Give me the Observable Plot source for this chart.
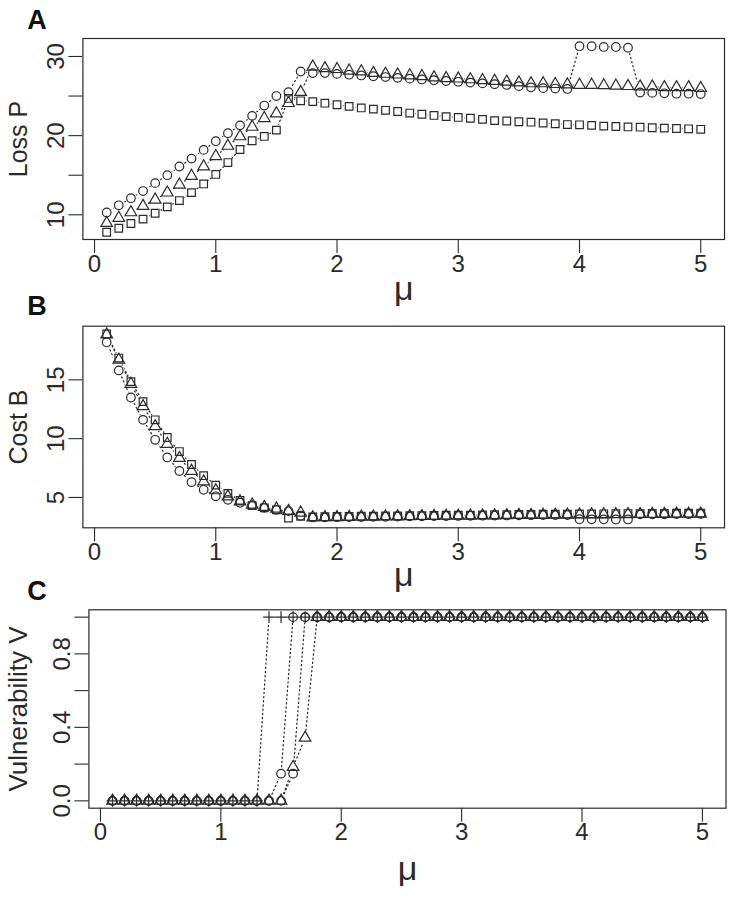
<!DOCTYPE html>
<html>
<head>
<meta charset="utf-8">
<script src="https://cdn.jsdelivr.net/npm/d3@7"></script>
<script src="https://cdn.jsdelivr.net/npm/@observablehq/plot@0.6"></script>
<style>
  html, body { margin: 0; padding: 0; background: #fff; }
  #chart { width: 735px; height: 897px; position: relative; overflow: hidden; }
  #chart svg { display: block; }
</style>
</head>
<body>
<div id="chart"></div>
<script>
// ---------------- data ----------------
const mu = [0.1,0.2,0.3,0.4,0.5,0.6,0.7,0.8,0.9,1.0,
            1.1,1.2,1.3,1.4,1.5,1.6,1.7,1.8,1.9,2.0,
            2.1,2.2,2.3,2.4,2.5,2.6,2.7,2.8,2.9,3.0,
            3.1,3.2,3.3,3.4,3.5,3.6,3.7,3.8,3.9,4.0,
            4.1,4.2,4.3,4.4,4.5,4.6,4.7,4.8,4.9,5.0];

// Panel A: Loss P
const lossCircle = [10.3,11.2,12.1,13.0,14.0,15.0,16.1,17.1,18.2,19.3,
                    20.3,21.3,22.5,23.8,25.0,25.5,28.1,27.9,27.9,27.8,
                    27.7,27.6,27.5,27.4,27.3,27.2,27.1,27.0,26.9,26.8,
                    26.7,26.6,26.5,26.4,26.25,26.1,26.0,25.95,25.9,31.3,
                    31.3,31.2,31.2,31.1,25.45,25.4,25.35,25.3,25.3,25.25];
const lossTriangle = [8.95,9.6,10.3,11.1,11.9,12.8,13.8,14.9,16.1,17.4,
                      18.7,19.9,21.1,22.2,22.8,24.1,25.5,28.7,28.5,28.4,
                      28.2,28.1,27.9,27.8,27.7,27.6,27.5,27.35,27.25,27.2,
                      27.1,27.0,26.9,26.8,26.7,26.6,26.6,26.5,26.45,26.4,
                      26.4,26.35,26.3,26.25,26.2,26.2,26.1,26.1,26.1,26.0];
const lossSquare = [7.8,8.3,8.9,9.45,10.2,11.0,11.8,12.8,13.9,15.1,
                    16.6,18.25,19.35,19.9,20.7,24.7,24.4,24.3,24.1,23.9,
                    23.7,23.5,23.35,23.2,23.05,22.85,22.7,22.55,22.4,22.3,
                    22.2,22.05,21.9,21.85,21.75,21.7,21.6,21.5,21.4,21.37,
                    21.3,21.2,21.15,21.1,21.07,21.0,20.95,20.9,20.86,20.8];

// Panel B: Cost B
const costCircle = [18.2,15.8,13.5,11.6,9.9,8.4,7.25,6.3,5.65,5.1,
                    4.8,4.55,4.35,4.12,3.95,3.84,3.45,3.3,3.31,3.32,
                    3.33,3.34,3.35,3.36,3.38,3.39,3.4,3.41,3.42,3.43,
                    3.44,3.45,3.46,3.47,3.48,3.49,3.5,3.5,3.51,3.15,
                    3.14,3.14,3.13,3.13,3.56,3.57,3.57,3.58,3.59,3.6];
const costTriangle = [18.85,16.7,14.65,12.75,11.05,9.55,8.35,7.25,6.35,5.6,
                      5.08,4.66,4.38,4.18,4.04,3.84,3.7,3.3,3.31,3.32,
                      3.33,3.35,3.36,3.37,3.38,3.4,3.41,3.42,3.43,3.44,
                      3.45,3.46,3.47,3.48,3.5,3.5,3.51,3.52,3.53,3.54,
                      3.55,3.55,3.56,3.57,3.58,3.58,3.59,3.6,3.6,3.61];
const costSquare = [18.9,16.85,14.85,13.15,11.6,10.1,8.9,7.8,6.85,6.05,
                    5.35,4.75,4.3,4.12,3.95,3.25,3.4,3.35,3.36,3.38,
                    3.38,3.4,3.41,3.43,3.43,3.45,3.46,3.47,3.49,3.5,
                    3.5,3.52,3.53,3.54,3.55,3.56,3.57,3.58,3.58,3.6,
                    3.6,3.61,3.62,3.63,3.63,3.64,3.65,3.66,3.66,3.67];

// Panel C: Vulnerability V
const vulnPlus = [0,0,0,0,0,0,0,0,0,0,
                  0,0,0,1,1,1,1,1,1,1,
                  1,1,1,1,1,1,1,1,1,1,
                  1,1,1,1,1,1,1,1,1,1,
                  1,1,1,1,1,1,1,1,1,1];
const vulnCircle1 = [0,0,0,0,0,0,0,0,0,0,
                     0,0,0,0,0.148,1,1,1,1,1,
                     1,1,1,1,1,1,1,1,1,1,
                     1,1,1,1,1,1,1,1,1,1,
                     1,1,1,1,1,1,1,1,1,1];
const vulnCircle2 = [0,0,0,0,0,0,0,0,0,0,
                     0,0,0,0,0,0.148,1,1,1,1,
                     1,1,1,1,1,1,1,1,1,1,
                     1,1,1,1,1,1,1,1,1,1,
                     1,1,1,1,1,1,1,1,1,1];
const vulnTriangle = [0,0,0,0,0,0,0,0,0,0,
                      0,0,0,0,0,0.184,0.343,1,1,1,
                      1,1,1,1,1,1,1,1,1,1,
                      1,1,1,1,1,1,1,1,1,1,
                      1,1,1,1,1,1,1,1,1,1];

const xTicks = [0, 1, 2, 3, 4, 5];
const yTicksA = [10, 15, 20, 25, 30];
const yLabelsA = [10, 20, 30];
const yTicksB = [5, 10, 15];
const yLabelsB = [5, 10, 15];
const yTicksC = [0, 0.2, 0.4, 0.6, 0.8, 1.0];
const yLabelsC = [0, 0.4, 0.8];

// ---------------- drawing ----------------
const INK = "#2a2a2a";
const FONT = "'Liberation Sans', Arial, Helvetica, sans-serif";
const rows = vals => vals.map((v, i) => ({mu: mu[i], v}));

function panel(o) {
  const layers = o.series.map(s => ({data: rows(s.values), symbol: s.symbol, r: s.r}));
  const marks = [];
  // dotted connecting lines (type = "b")
  for (const l of layers) marks.push(Plot.line(l.data, {x: "mu", y: "v", stroke: INK, strokeWidth: 1.25, strokeDasharray: "1.2,3"}));
  // white gaps around points
  for (const l of layers) marks.push(Plot.dot(l.data, {x: "mu", y: "v", r: 5.8, fill: "white"}));
  // open symbols
  for (const l of layers) marks.push(Plot.dot(l.data, {x: "mu", y: "v", symbol: l.symbol, r: l.r, stroke: INK, strokeWidth: 1.2, fill: "none"}));
  marks.push(Plot.frame({stroke: INK, strokeWidth: 1.2}));
  marks.push(Plot.axisX({ticks: xTicks, tickSize: 14, tickPadding: 1, tickFormat: d => String(d), label: null, fontSize: 24, strokeWidth: 1.1}));
  marks.push(Plot.axisY({ticks: o.yTicks, tickSize: 14, tickPadding: 5, tickRotate: -90,
    tickFormat: d => o.yLabels.some(t => Math.abs(t - d) < 1e-9) ? o.yFmt(d) : "", label: null, fontSize: 24, strokeWidth: 1.1}));
  marks.push(Plot.text([o.ylabel], {frameAnchor: "left", rotate: -90, dx: o.ylabelDx, textAnchor: "middle", lineAnchor: "middle",
    text: d => d, fontSize: o.ylabelSize, fill: INK, ariaLabel: "ytitle"}));
  marks.push(Plot.text(["\u03bc"], {frameAnchor: "bottom", dy: o.muDy, textAnchor: "middle", lineAnchor: "bottom",
    text: d => d, fontSize: 34, fill: INK}));
  marks.push(Plot.text([o.letter], {frameAnchor: "top-left", dx: o.letterDx, dy: o.letterDy, textAnchor: "middle", lineAnchor: "middle",
    text: d => d, fontSize: 27, fontWeight: "bold", fill: "#111"}));

  const svg = Plot.plot({
    width: 735, height: o.height,
    marginTop: o.mt, marginBottom: o.mb, marginLeft: o.ml, marginRight: o.mr,
    style: {fontFamily: FONT, color: INK, background: "white", overflow: "visible"},
    x: {domain: [-0.096, 5.196]},
    y: {domain: o.yDomain},
    marks
  });
  // italic variable in the y title
  svg.querySelectorAll('g[aria-label="ytitle"] text').forEach(t => {
    const full = t.textContent, k = full.lastIndexOf(" ");
    const ns = "http://www.w3.org/2000/svg";
    const a = document.createElementNS(ns, "tspan"); a.textContent = full.slice(0, k + 1);
    const b = document.createElementNS(ns, "tspan"); b.textContent = full.slice(k + 1); b.setAttribute("font-style", "italic");
    t.textContent = ""; t.append(a, b);
    if (o.ylabelLength) { t.setAttribute("textLength", o.ylabelLength); t.setAttribute("lengthAdjust", "spacingAndGlyphs"); }
  });
  return svg;
}

const chart = document.getElementById("chart");
chart.append(panel({
  letter: "A", height: 300, mt: 38, mb: 61, ml: 82.4, mr: 11,
  yDomain: [6.88, 32.27], yTicks: yTicksA, yLabels: yLabelsA, yFmt: d => String(d),
  ylabel: "Loss P", ylabelDx: -64, ylabelSize: 25, muDy: 60, letterDx: -46, letterDy: -18,
  series: [
    {values: lossCircle, symbol: "circle", r: 4.3},
    {values: lossTriangle, symbol: "triangle", r: 4.3},
    {values: lossSquare, symbol: "square", r: 4.3}
  ]
}));
chart.append(panel({
  letter: "B", height: 285, mt: 25.7, mb: 57.7, ml: 82.4, mr: 11,
  yDomain: [2.42, 19.56], yTicks: yTicksB, yLabels: yLabelsB, yFmt: d => String(d),
  ylabel: "Cost B", ylabelDx: -64, ylabelSize: 25, muDy: 58, letterDx: -46, letterDy: -20,
  series: [
    {values: costCircle, symbol: "circle", r: 4.3},
    {values: costTriangle, symbol: "triangle", r: 4.3},
    {values: costSquare, symbol: "square", r: 4.3}
  ]
}));
chart.append(panel({
  letter: "C", height: 312, mt: 24.3, mb: 89.3, ml: 88.4, mr: 9.5,
  yDomain: [-0.04, 1.04], yTicks: yTicksC, yLabels: yLabelsC, yFmt: d => d.toFixed(1),
  ylabel: "Vulnerability V", ylabelDx: -70, ylabelSize: 26, ylabelLength: 203, muDy: 72, letterDx: -52, letterDy: -18,
  series: [
    {values: vulnPlus, symbol: "plus", r: 3.9},
    {values: vulnCircle1, symbol: "circle", r: 4.3},
    {values: vulnCircle2, symbol: "circle", r: 4.3},
    {values: vulnTriangle, symbol: "triangle", r: 4.3}
  ]
}));
</script>
</body>
</html>
